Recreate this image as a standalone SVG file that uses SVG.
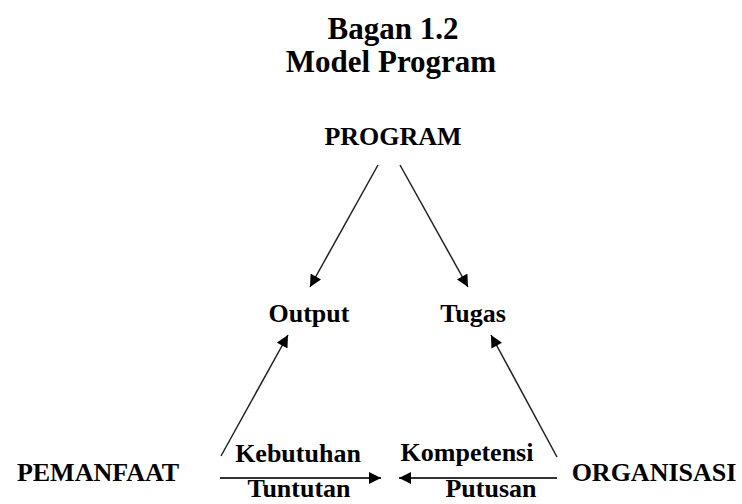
<svg xmlns="http://www.w3.org/2000/svg" width="742" height="504" viewBox="0 0 742 504">
<style>
text{font-family:"Liberation Serif","Times New Roman",serif;font-weight:bold;fill:#000}
.t{font-size:31px}
.n{font-size:26px}
.c{fill:none;stroke:#222;stroke-width:1.5}
.h{fill:none;stroke:#333;stroke-width:2.2}
</style>
<defs>
<marker id="ah" viewBox="0 0 10 10" refX="10" refY="5" markerWidth="13" markerHeight="12" markerUnits="userSpaceOnUse" orient="auto">
<path d="M0,0 L10,5 L0,10 z" fill="#000"/>
</marker>
</defs>
<g id="title">
<text class="t" x="393" y="39" text-anchor="middle">Bagan 1.2</text>
<text class="t" x="391" y="72" text-anchor="middle">Model Program</text>
</g>
<g id="program"><text class="n" x="393" y="145" text-anchor="middle">PROGRAM</text></g>
<g id="output"><text class="n" x="309" y="322" text-anchor="middle">Output</text></g>
<g id="tugas"><text class="n" x="473" y="322" text-anchor="middle">Tugas</text></g>
<g id="pemanfaat"><text class="n" x="98" y="481" text-anchor="middle">PEMANFAAT</text></g>
<g id="organisasi"><text class="n" x="654" y="481" text-anchor="middle">ORGANISASI</text></g>
<g id="labels">
<text class="n" x="298" y="462" text-anchor="middle">Kebutuhan</text>
<text class="n" x="299" y="497" text-anchor="middle">Tuntutan</text>
<text class="n" x="467" y="461" text-anchor="middle">Kompetensi</text>
<text class="n" x="491" y="497" text-anchor="middle">Putusan</text>
</g>
<g id="connectors">
<line class="c" x1="378" y1="165" x2="310" y2="287" marker-end="url(#ah)"/>
<line class="c" x1="400" y1="165" x2="468" y2="287" marker-end="url(#ah)"/>
<line class="c" x1="221" y1="456" x2="288" y2="335" marker-end="url(#ah)"/>
<line class="c" x1="557" y1="457" x2="491" y2="335" marker-end="url(#ah)"/>
<line class="h" x1="220" y1="478" x2="381" y2="478" marker-end="url(#ah)"/>
<line class="h" x1="557" y1="478" x2="399" y2="478" marker-end="url(#ah)"/>
</g>
</svg>
